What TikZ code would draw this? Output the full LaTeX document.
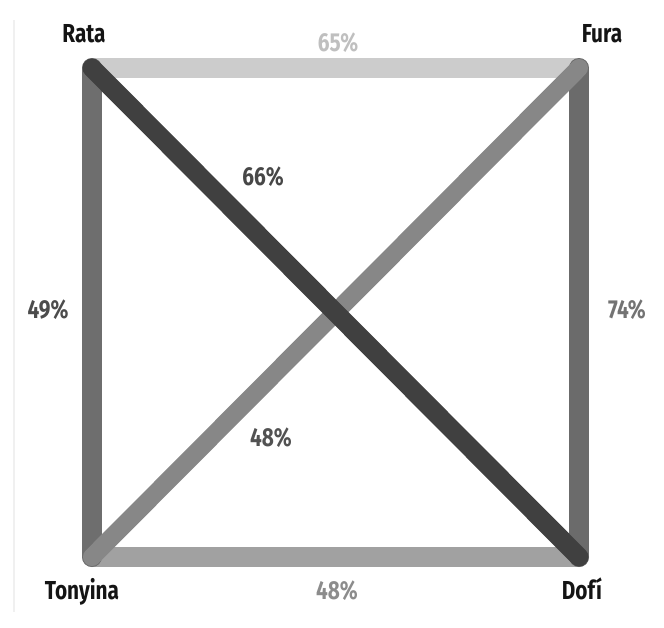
\documentclass[tikz,border=0pt]{standalone}
\usepackage{fontspec}
\setmainfont{Fira Sans}[FakeStretch=0.8]
\begin{document}
\begin{tikzpicture}[x=1pt,y=-1pt,
  bar/.style={line width=20pt,line cap=round},
  lbl/.style={font=\bfseries\fontsize{26}{28}\selectfont,inner sep=0pt,anchor=base}]
\useasboundingbox (0,0) rectangle (664,627);
\fill[white] (0,0) rectangle (664,627);
\draw[line width=2pt,color=black!6] (14,20) -- (14,612);
\coordinate (R) at (92,68);
\coordinate (F) at (579,68);
\coordinate (T) at (92,557);
\coordinate (D) at (579,557);
\draw[bar,color=black!20] (R) -- (F);
\draw[bar,color=black!37] (T) -- (D);
\draw[bar,color=black!57] (R) -- (T);
\draw[bar,color=black!58] (F) -- (D);
\draw[bar,color=black!47,line width=18pt] (F) -- (T);
\draw[bar,color=black!75,line width=19pt] (R) -- (D);
\node[lbl,text=black!92] (rata) at (84,42) {Rata};
\node[lbl,text=black!92] (fura) at (602,42) {Fura};
\node[lbl,text=black!92] (tony) at (82,599) {Tonyina};
\node[lbl,text=black!92] (dofi) at (582,599) {Dofí};
\node[lbl,text=black!25] (p65) at (338,51) {65\%};
\node[lbl,text=black!45] (p48b) at (337,599) {48\%};
\node[lbl,text=black!70] (p49) at (48,318) {49\%};
\node[lbl,text=black!55] (p74) at (627,318) {74\%};
\node[lbl,text=black!72] (p66) at (263,185) {66\%};
\node[lbl,text=black!68] (p48m) at (271,446) {48\%};
\end{tikzpicture}
\end{document}
